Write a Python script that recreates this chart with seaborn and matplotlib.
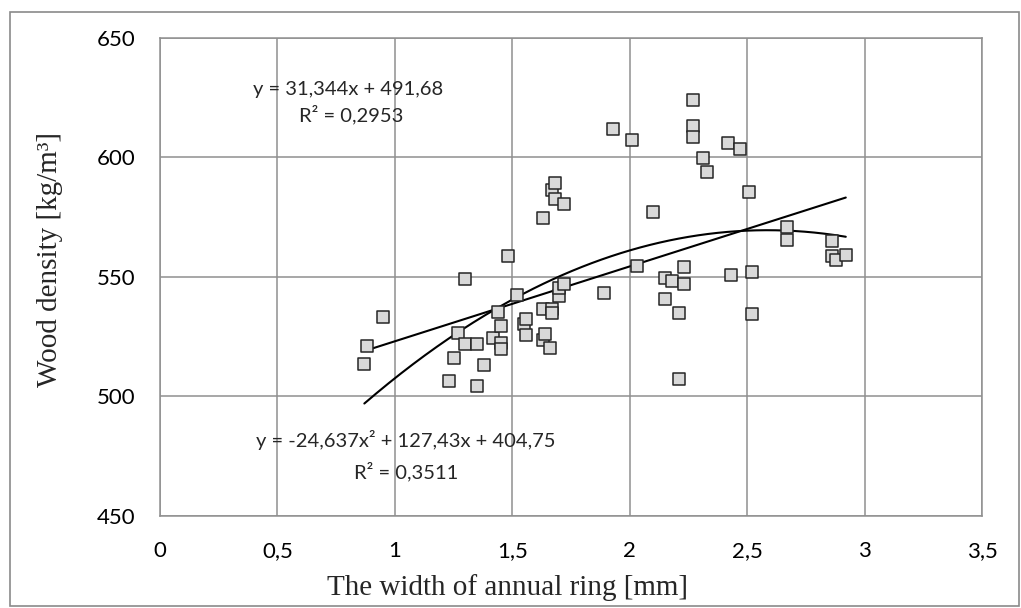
import numpy as np
import pandas as pd
import matplotlib
matplotlib.use("Agg")
import matplotlib.pyplot as plt
import seaborn as sns
from matplotlib.patches import Rectangle

# ring width [mm] and wood density [kg/m3]
ring_width = [0.88, 0.87, 0.95, 1.23, 1.25, 1.27, 1.30, 1.30, 1.35, 1.35,
              1.38, 1.42, 1.44, 1.45, 1.45, 1.45, 1.48, 1.52, 1.55, 1.56,
              1.56, 1.63, 1.63, 1.64, 1.63, 1.66, 1.67, 1.67, 1.67, 1.68,
              1.68, 1.70, 1.70, 1.72, 1.72, 1.89, 1.93, 2.01, 2.03, 2.10,
              2.15, 2.15, 2.18, 2.21, 2.21, 2.23, 2.23, 2.27, 2.27, 2.27,
              2.31, 2.33, 2.42, 2.43, 2.47, 2.51, 2.52, 2.52, 2.67, 2.67,
              2.86, 2.86, 2.88, 2.92]
density = [521.0, 513.4, 533.3, 506.6, 516.0, 526.3, 549.1, 521.7, 521.7, 504.5,
           513.2, 524.6, 535.1, 529.5, 522.5, 519.6, 558.8, 542.2, 530.1, 532.3,
           525.5, 536.7, 523.4, 525.9, 574.7, 520.4, 536.7, 534.9, 586.5, 589.1,
           582.5, 542.1, 545.5, 547.2, 580.7, 543.3, 611.8, 607.1, 554.5, 577.3,
           549.5, 540.9, 548.1, 535.0, 507.3, 554.1, 547.2, 624.0, 613.2, 608.6,
           599.7, 594.1, 606.0, 550.6, 603.5, 585.6, 552.0, 534.3, 570.9, 565.3,
           565.0, 558.7, 556.9, 559.3]

# trend line coefficients as printed on the chart
lin_coef = [31.344, 491.68]
quad_coef = [-24.637, 127.43, 404.75]
lin_label = ["y = 31,344x + 491,68", "R\u00b2 = 0,2953"]
quad_label = ["y = -24,637x\u00b2 + 127,43x + 404,75", "R\u00b2 = 0,3511"]

x_ticks = [0, 0.5, 1, 1.5, 2, 2.5, 3, 3.5]
x_tick_labels = ["0", "0,5", "1", "1,5", "2", "2,5", "3", "3,5"]
y_ticks = [450, 500, 550, 600, 650]

df = pd.DataFrame({"width": ring_width, "density": density})

sns.set_theme(style="white")
plt.rcParams["font.family"] = ["Lato", "DejaVu Sans"]

W, H = 1021, 608
fig = plt.figure(figsize=(W / 100, H / 100), dpi=100)
ax = fig.add_axes([160 / W, 1 - 515.7 / H, (982 - 160) / W, (515.7 - 38) / H])

grid_col = "#8f8f8f"
ax.set_xlim(0, 3.5)
ax.set_ylim(450, 650)
ax.set_xticks(x_ticks)
ax.set_xticklabels(x_tick_labels)
ax.set_yticks(y_ticks)
ax.grid(True, color=grid_col, linewidth=1.1)
for s in ax.spines.values():
    s.set_color(grid_col)
    s.set_linewidth(1.1)
ax.tick_params(axis="both", length=6, width=1.1, color=grid_col, labelsize=16,
               labelcolor="black", pad=12, direction="out")
ax.tick_params(axis="x", pad=12)
ax.set_axisbelow(True)

# trend lines over the data range
xs = np.linspace(min(ring_width), max(ring_width), 200)
ax.plot(xs, np.polyval(lin_coef, xs), color="black", linewidth=1.5, zorder=3)
ax.plot(xs, np.polyval(quad_coef, xs), color="black", linewidth=1.5, zorder=3)

sns.scatterplot(data=df, x="width", y="density", marker="s", s=85,
                color="#d9d9d9", edgecolor="#262626", linewidth=1.1,
                ax=ax, zorder=4)
ax.set_xlabel("")
ax.set_ylabel("")

# equation labels
fig.text(348 / W, 1 - 90 / H, lin_label[0], ha="center", va="center", fontsize=14.5)
fig.text(351 / W, 1 - 115 / H, lin_label[1], ha="center", va="center", fontsize=14.5)
fig.text(406 / W, 1 - 440 / H, quad_label[0], ha="center", va="center", fontsize=14.5)
fig.text(406 / W, 1 - 472 / H, quad_label[1], ha="center", va="center", fontsize=14.5)

# axis titles in serif
fig.text(507 / W, 1 - 588 / H, "The width of annual ring [mm]", ha="center",
         va="center", fontsize=21, family=["Liberation Serif", "DejaVu Serif"])
fig.text(50 / W, 1 - 260 / H, "Wood density [kg/m\u00b3]", ha="center",
         va="center", rotation=90, fontsize=21,
         family=["Liberation Serif", "DejaVu Serif"])

# outer chart border
fig.patches.append(Rectangle((9.5 / W, 1 - 606 / H), (1019 - 9.5) / W, (606 - 12) / H,
                             transform=fig.transFigure, fill=False,
                             edgecolor="#8a8a8a", linewidth=1.2))

fig.savefig("out.png", dpi=100)
